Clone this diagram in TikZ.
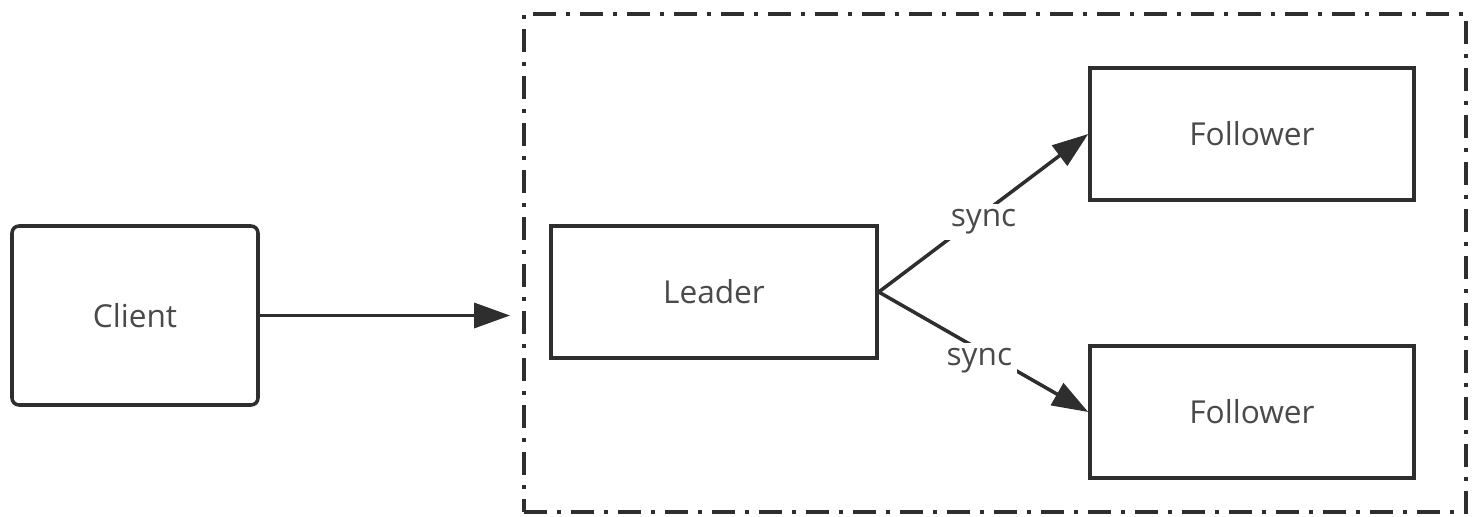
\documentclass[tikz,border=0pt]{standalone}
\usepackage{fontspec}
\setmainfont{Open Sans}
\usepackage{xcolor}
\usepackage{tikz}
\usetikzlibrary{arrows.meta,positioning,calc}
\definecolor{edgegray}{HTML}{2E2E2E}
\definecolor{textgray}{HTML}{4A4A4A}

\begin{document}
\begin{tikzpicture}[
  box/.style={draw=edgegray,line width=2pt,fill=white,
              minimum width=6.5cm,minimum height=2.64cm,
              align=center,font=\fontsize{18}{22}\selectfont,text=textgray},
  group/.style={draw=edgegray,line width=2.2pt,
                dash pattern=on 0.46cm off 0.2cm on 0.08cm off 0.2cm,
                minimum width=18.84cm,minimum height=9.96cm},
  link/.style={draw=edgegray,line width=2pt,
               -{Triangle[length=0.72cm,width=0.5cm]}},
  tag/.style={fill=white,inner sep=3pt,font=\fontsize{18}{22}\selectfont,text=textgray}
]
  \useasboundingbox (0,0) rectangle (29.46,10.32);

  % replica set
  \node[group] (cluster) at (19.90,5.06) {};

  \node[box,rounded corners=4pt,minimum width=4.92cm,minimum height=3.58cm]
    (client) at (2.70,4.01) {Client};
  \node[box,minimum width=6.52cm] (leader) at (14.28,4.48) {Leader};
  \node[box,minimum width=6.48cm] (followerA) at (25.04,7.64) {Follower};
  \node[box,minimum width=6.48cm] (followerB) at (25.04,2.08) {Follower};

  \draw[link,shorten >=0.24cm] (client.east) -- (client.east -| cluster.west);
  \draw[link] (leader.east) -- node[tag,yshift=-0.18cm] {sync} (followerA.west);
  \draw[link] (leader.east) -- node[tag,pos=0.48,yshift=-0.22cm] {sync} (followerB.west);
\end{tikzpicture}
\end{document}
